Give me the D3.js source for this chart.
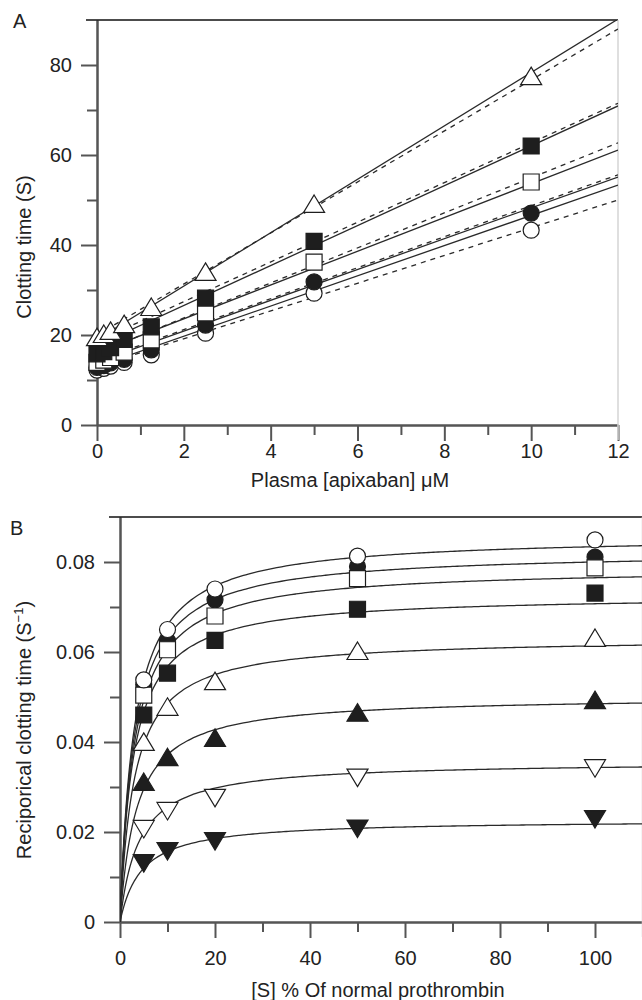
<!DOCTYPE html>
<html>
<head>
<meta charset="utf-8">
<script src="https://cdn.jsdelivr.net/npm/d3@7"></script>
<style>
  body { margin: 0; background: #fff; }
  svg { display: block; }
  text { font-family: "Liberation Sans", Arial, Helvetica, sans-serif; fill: #222; }
</style>
</head>
<body>
<svg id="chart" width="642" height="1000"></svg>
<script>
// ---------- Panel A data ----------
const apixabanConc = [0, 0.156, 0.3125, 0.625, 1.25, 2.5, 5, 10];
const timeOpenTriangle  = [19.3, 20.0, 20.7, 22.2, 26.0, 33.8, 48.9, 77.3];
const timeFilledSquare  = [15.8, 16.3, 17.2, 19.0, 21.8, 28.2, 40.8, 62.0];
const timeOpenSquare    = [13.9, 14.4, 15.0, 16.2, 18.9, 24.9, 36.2, 54.0];
const timeFilledCircle  = [12.8, 13.2, 13.8, 14.6, 16.7, 22.2, 31.8, 47.1];
const timeOpenCircle    = [12.2, 12.6, 13.1, 13.9, 15.6, 20.4, 29.3, 43.3];
// fitted lines: [value at 0 µM, value at 12 µM]
const solidFitEnds  = [[19.0, 90.2], [17.7, 70.9], [16.1, 61.1], [14.0, 55.1], [13.0, 53.3]];
const dashedFitEnds = [[20.0, 88.0], [18.6, 71.5], [16.0, 62.7], [14.3, 55.6], [13.0, 50.0]];
const fitConcRange = [0, 12];
const xTicksA = [0, 2, 4, 6, 8, 10, 12];
const xMinorA = [1, 3, 5, 7, 9, 11];
const yTicksA = [0, 20, 40, 60, 80];
const yMinorA = [10, 30, 50, 70];

// ---------- Panel B data ----------
const prothrombinPct = [5, 10, 20, 50, 100];
const rateOpenCircle      = [0.0538, 0.0650, 0.0740, 0.0813, 0.0849];
const rateFilledCircle    = [0.0527, 0.0625, 0.0716, 0.0790, 0.0811];
const rateOpenSquare      = [0.0504, 0.0605, 0.0680, 0.0763, 0.0787];
const rateFilledSquare    = [0.0460, 0.0553, 0.0626, 0.0695, 0.0731];
const rateOpenTriangle    = [0.0398, 0.0476, 0.0533, 0.0600, 0.0629];
const rateFilledTriangle  = [0.0309, 0.0364, 0.0407, 0.0463, 0.0491];
const rateOpenInverted    = [0.0209, 0.0249, 0.0278, 0.0323, 0.0344];
const rateFilledInverted  = [0.0133, 0.0160, 0.0182, 0.0210, 0.0231];
// hyperbolic fits: Vmax and Km per series (same order as above)
const fitVmax = [0.0859, 0.0824, 0.0788, 0.0727, 0.0632, 0.0502, 0.0357, 0.0227];
const fitKm   = [3.0, 3.0, 3.0, 2.8, 3.0, 3.5, 4.0, 4.5];
const xTicksB = [0, 20, 40, 60, 80, 100];
const xMinorB = [10, 30, 50, 70, 90];
const yTicksB = [0, 0.02, 0.04, 0.06, 0.08];
const yMinorB = [0.01, 0.03, 0.05, 0.07];

// ---------- drawing ----------
const svg = d3.select("#chart");
svg.append("rect").attr("width", 642).attr("height", 1000).attr("fill", "#fff");

const AXIS_COLOR = "#555";
const LINE_COLOR = "#2a2a2a";
const FONT = 20;

const shapes = {
  circle: "M8,0A8,8 0 1,1 -8,0A8,8 0 1,1 8,0Z",
  square: "M-8,-8H8V8H-8Z",
  triUp: "M0,-10L10.5,7.5L-10.5,7.5Z",
  triDown: "M0,10L10.5,-7.5L-10.5,-7.5Z"
};

function drawAxes(g, x, y, cfg) {
  const yMaj = g.append("g").attr("transform", `translate(${x.range()[0]},0)`)
    .call(d3.axisLeft(y).tickValues(cfg.yTicks).tickSize(16).tickSizeOuter(0).tickPadding(9).tickFormat(cfg.yFmt));
  const yMin = g.append("g").attr("transform", `translate(${x.range()[0]},0)`)
    .call(d3.axisLeft(y).tickValues(cfg.yMinor).tickSize(10).tickSizeOuter(0).tickFormat(""));
  const xMaj = g.append("g").attr("transform", `translate(0,${y.range()[0]})`)
    .call(d3.axisBottom(x).tickValues(cfg.xTicks).tickSize(16).tickSizeOuter(0).tickPadding(cfg.xPad).tickFormat(d3.format("d")));
  const xMin = g.append("g").attr("transform", `translate(0,${y.range()[0]})`)
    .call(d3.axisBottom(x).tickValues(cfg.xMinor).tickSize(10).tickSizeOuter(0).tickFormat(""));
  [yMaj, yMin, xMaj, xMin].forEach(a => {
    a.selectAll("path.domain").attr("stroke", AXIS_COLOR).attr("stroke-width", 2);
    a.selectAll(".tick line").attr("stroke", AXIS_COLOR).attr("stroke-width", 2);
    a.selectAll(".tick text").attr("font-size", FONT).attr("fill", "#222")
      .attr("font-family", '"Liberation Sans", Arial, sans-serif');
  });
  // top frame (black) and right frame (light gray)
  g.append("line").attr("x1", x.range()[0] - 11).attr("x2", x.range()[1])
    .attr("y1", y.range()[1]).attr("y2", y.range()[1])
    .attr("stroke", "#111").attr("stroke-width", 1.6);
  g.append("line").attr("x1", x.range()[1]).attr("x2", x.range()[1])
    .attr("y1", y.range()[1]).attr("y2", y.range()[0] + 15)
    .attr("stroke", "#d4d4d4").attr("stroke-width", 1.5);
}

function drawMarkers(g, x, y, xs, ys, shape, filled) {
  g.append("g").selectAll("path").data(xs.map((d, i) => [d, ys[i]])).join("path")
    .attr("d", shapes[shape])
    .attr("transform", d => `translate(${x(d[0])},${y(d[1])})`)
    .attr("fill", filled ? "#1e1e1e" : "#fff")
    .attr("stroke", "#1e1e1e").attr("stroke-width", 1.2);
}

// ---------- Panel A ----------
const xA = d3.scaleLinear().domain([0, 12]).range([97, 618]);
const yA = d3.scaleLinear().domain([0, 90]).range([425, 20]);
const gA = svg.append("g");
svg.append("clipPath").attr("id", "clipA").append("rect")
  .attr("x", 97).attr("y", 20).attr("width", 521).attr("height", 405);

drawAxes(gA, xA, yA, { yTicks: yTicksA, yMinor: yMinorA, xTicks: xTicksA, xMinor: xMinorA,
  yFmt: d3.format("d"), xPad: 3 });

const linesA = gA.append("g").attr("clip-path", "url(#clipA)");
const lineGen = d3.line().x(d => xA(d[0])).y(d => yA(d[1]));
dashedFitEnds.forEach(e => {
  linesA.append("path").attr("d", lineGen([[fitConcRange[0], e[0]], [fitConcRange[1], e[1]]]))
    .attr("fill", "none").attr("stroke", LINE_COLOR).attr("stroke-width", 1.3)
    .attr("stroke-dasharray", "5,5");
});
solidFitEnds.forEach(e => {
  linesA.append("path").attr("d", lineGen([[fitConcRange[0], e[0]], [fitConcRange[1], e[1]]]))
    .attr("fill", "none").attr("stroke", LINE_COLOR).attr("stroke-width", 1.3);
});

drawMarkers(gA, xA, yA, apixabanConc, timeOpenCircle, "circle", false);
drawMarkers(gA, xA, yA, apixabanConc, timeFilledCircle, "circle", true);
drawMarkers(gA, xA, yA, apixabanConc, timeOpenSquare, "square", false);
drawMarkers(gA, xA, yA, apixabanConc, timeFilledSquare, "square", true);
drawMarkers(gA, xA, yA, apixabanConc, timeOpenTriangle, "triUp", false);

svg.append("text").attr("x", 13).attr("y", 28).attr("font-size", FONT).text("A");
svg.append("text").attr("transform", "translate(31,247) rotate(-90)")
  .attr("text-anchor", "middle").attr("font-size", FONT).text("Clotting time (S)");
svg.append("text").attr("x", 350).attr("y", 487)
  .attr("text-anchor", "middle").attr("font-size", FONT).text("Plasma [apixaban] \u03BCM");

// ---------- Panel B ----------
const xB = d3.scaleLinear().domain([0, 110]).range([120, 642.5]);
const yB = d3.scaleLinear().domain([0, 0.09]).range([922, 517]);
const gB = svg.append("g");
svg.append("clipPath").attr("id", "clipB").append("rect")
  .attr("x", 120).attr("y", 517).attr("width", 522).attr("height", 405);

drawAxes(gB, xB, yB, { yTicks: yTicksB, yMinor: yMinorB, xTicks: xTicksB, xMinor: xMinorB,
  yFmt: d => d === 0 ? "0" : d3.format(".2f")(d), xPad: 13 });

const sGrid = d3.range(0, 0.5, 0.02).concat(d3.range(0.5, 5, 0.1), d3.range(5, 111, 1));
const curveGen = d3.line().x(d => xB(d[0])).y(d => yB(d[1])).curve(d3.curveMonotoneX);
const curvesB = gB.append("g").attr("clip-path", "url(#clipB)");
fitVmax.forEach((v, i) => {
  const km = fitKm[i];
  curvesB.append("path").attr("d", curveGen(sGrid.map(s => [s, v * s / (km + s)])))
    .attr("fill", "none").attr("stroke", LINE_COLOR).attr("stroke-width", 1.3);
});

drawMarkers(gB, xB, yB, prothrombinPct, rateFilledInverted, "triDown", true);
drawMarkers(gB, xB, yB, prothrombinPct, rateOpenInverted, "triDown", false);
drawMarkers(gB, xB, yB, prothrombinPct, rateFilledTriangle, "triUp", true);
drawMarkers(gB, xB, yB, prothrombinPct, rateOpenTriangle, "triUp", false);
drawMarkers(gB, xB, yB, prothrombinPct, rateFilledSquare, "square", true);
drawMarkers(gB, xB, yB, prothrombinPct, rateFilledCircle, "circle", true);
drawMarkers(gB, xB, yB, prothrombinPct, rateOpenSquare, "square", false);
drawMarkers(gB, xB, yB, prothrombinPct, rateOpenCircle, "circle", false);

svg.append("text").attr("x", 10).attr("y", 535).attr("font-size", FONT).text("B");
const yTitleB = svg.append("text").attr("transform", "translate(31,730) rotate(-90)")
  .attr("text-anchor", "middle").attr("font-size", FONT);
yTitleB.append("tspan").text("Reciporical clotting time (S");
yTitleB.append("tspan").attr("font-size", 13).attr("dy", -8).text("\u22121");
yTitleB.append("tspan").attr("dy", 8).text(")");
svg.append("text").attr("x", 378).attr("y", 997)
  .attr("text-anchor", "middle").attr("font-size", FONT).text("[S] % Of normal prothrombin");
</script>
</body>
</html>
